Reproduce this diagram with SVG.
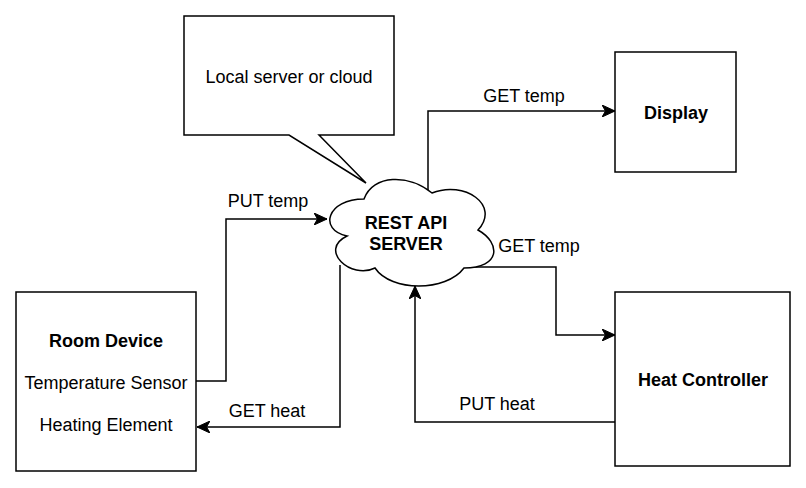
<svg xmlns="http://www.w3.org/2000/svg" width="806" height="488" viewBox="0 0 806 488">
<style>
.box{fill:#fff;stroke:#000;stroke-width:1.5}
.edge{fill:none;stroke:#000;stroke-width:1.5}
text{font-family:"Liberation Sans",Arial,sans-serif;font-size:18px;fill:#000;text-anchor:middle}
.b{font-weight:bold}
</style>
<defs>
<marker id="arr" markerWidth="14" markerHeight="12" viewBox="0 0 14 12" refX="13" refY="6" orient="auto" markerUnits="userSpaceOnUse">
<path d="M0,0 L13,6 L0,12 L3.5,6 Z" fill="#000" stroke="#000" stroke-width="1"/>
</marker>
</defs>
<rect width="806" height="488" fill="#fff"/>
<g id="connectors">
<polyline class="edge" points="196,381 226,381 226,219 327,219" marker-end="url(#arr)"/>
<text x="268" y="207">PUT temp</text>
<polyline class="edge" points="340,265 340,427 197,427" marker-end="url(#arr)"/>
<text x="267" y="417">GET heat</text>
<polyline class="edge" points="428,195 428,111 615,111" marker-end="url(#arr)"/>
<text x="524" y="102">GET temp</text>
<polyline class="edge" points="462,267 556,267 556,335 615,335" marker-end="url(#arr)"/>
<text x="539" y="252">GET temp</text>
<polyline class="edge" points="615,422 415,422 415,286" marker-end="url(#arr)"/>
<text x="497" y="410">PUT heat</text>
</g>
<g id="callout">
<path class="box" d="M184,16 H394 V135 H319 L366,183 L289,135 H184 Z"/>
<text x="289" y="83">Local server or cloud</text>
</g>
<g id="server">
<path class="box" d="M364,199 C327,199 318,230 347,236 C318,250 351,280 375,268 C391,292 446,292 464,268 C501,268 501,243 478,230 C501,205 464,180 432,193 C409,174 373,174 364,199 Z"/>
<text class="b" x="406" y="229">REST API</text>
<text class="b" x="406" y="250">SERVER</text>
</g>
<g id="display">
<rect class="box" x="615" y="52" width="121" height="120"/>
<text class="b" x="676" y="119">Display</text>
</g>
<g id="room-device">
<rect class="box" x="16" y="292" width="180" height="179"/>
<text class="b" x="106" y="347">Room Device</text>
<text x="106" y="389">Temperature Sensor</text>
<text x="106" y="431">Heating Element</text>
</g>
<g id="heat-controller">
<rect class="box" x="615" y="292" width="175" height="174"/>
<text class="b" x="703" y="386">Heat Controller</text>
</g>
</svg>
